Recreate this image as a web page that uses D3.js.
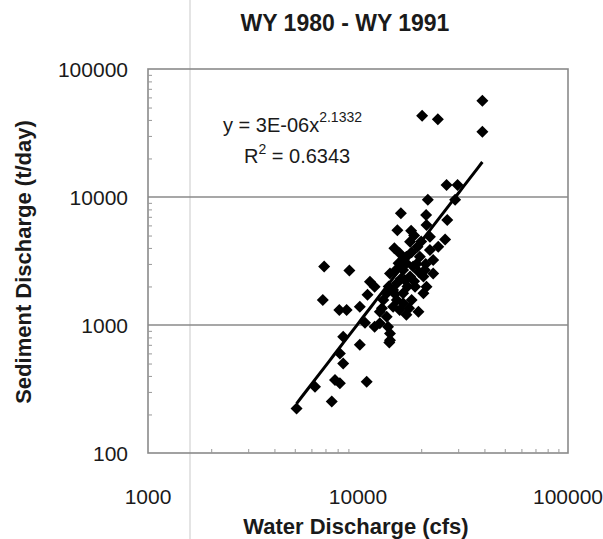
<!DOCTYPE html>
<html>
<head>
<meta charset="utf-8">
<script src="https://cdn.jsdelivr.net/npm/d3@7"></script>
<style>
  html, body { margin: 0; padding: 0; background: #fff; }
  svg { display: block; font-family: "Liberation Sans", Arial, sans-serif; }
</style>
</head>
<body>
<svg id="chart" width="603" height="539"></svg>
<script>
// ---- data ----
const chartTitle = "WY 1980 - WY 1991";
const xTitle = "Water Discharge (cfs)";
const yTitle = "Sediment Discharge (t/day)";
const xTickValues = [1000, 10000, 100000];
const yTickValues = [100, 1000, 10000, 100000];
const gridValues = [1000, 10000];

// water discharge (cfs)
const waterQ = [
  39100, 20200, 24000, 39100, 26400, 29800, 29000, 21500, 16000, 21100,
  26600, 15400, 17900, 21200, 26000, 14900, 17700, 19200, 22000, 22800,
  19700, 17000, 18300, 20800, 14200, 15300, 16400, 17700, 12000, 11400,
  11100, 13200, 15300, 12700, 13700, 15800, 17000, 19400, 21200, 20500,
  14700, 16400, 13900, 14200, 14200, 12000, 6900, 9100, 6800, 8150,
  8830, 10200, 8500, 10200, 14100, 8200, 8500, 8200, 7770, 11000,
  7500, 5100, 6240, 15600, 17000, 16700, 18700, 18000, 13700, 14700,
  16400, 12700, 20500, 22800, 24100, 22000, 15800, 10800,
  15200, 16000, 17200, 18500, 19500, 16500, 18000, 19000, 14000, 15000,
  17500, 13000, 21000, 18500, 20000
];
// sediment discharge (t/day)
const sedQ = [
  56600, 43200, 40500, 32400, 12400, 12400, 9500, 9500, 7450, 7250,
  6600, 5500, 5450, 6050, 4650, 3970, 4480, 4090, 3850, 3220,
  3420, 3420, 2860, 2690, 2530, 2120, 2690, 2390, 1990, 2180,
  1720, 1570, 1570, 1270, 1160, 1310, 1200, 1270, 1990, 1770,
  1880, 1770, 970, 860, 760, 970, 2860, 2660, 1570, 1310,
  1310, 1390, 810, 700, 730, 600, 500, 350, 372, 360,
  252, 223, 330, 3030, 3030, 2250, 1990, 1570, 1770, 1390,
  1480, 1030, 2390, 2530, 4090, 4900, 3630, 1040,
  2700, 2300, 2000, 2200, 2600, 3300, 3700, 3000, 2000, 1750,
  1350, 1350, 3000, 5000, 4500
];

// power trendline y = a * x^b
const trendCoef = 3e-6;
const trendExp = 2.1332;
const trendXRange = [5100, 39100];
const eqText = "y = 3E-06x";
const eqSup = "2.1332";
const r2Value = "0.6343";

// ---- drawing ----
const svg = d3.select("#chart");
const W = 603, H = 539;
const plot = { left: 148, right: 568, top: 69, bottom: 453 };

svg.append("rect").attr("width", W).attr("height", H).attr("fill", "#fff");

// faint scan line seen in the reference
svg.append("line")
  .attr("x1", 190).attr("x2", 190).attr("y1", 0).attr("y2", H)
  .attr("stroke", "#e4e4e4").attr("stroke-width", 2);

const x = d3.scaleLog().domain([1000, 100000]).range([plot.left, plot.right]);
const y = d3.scaleLog().domain([100, 100000]).range([plot.bottom, plot.top]);

// gridlines
svg.append("g").selectAll("line").data(gridValues).join("line")
  .attr("x1", plot.left).attr("x2", plot.right)
  .attr("y1", d => y(d)).attr("y2", d => y(d))
  .attr("stroke", "#8a8a8a").attr("stroke-width", 1.6);

// plot frame
svg.append("rect")
  .attr("x", plot.left).attr("y", plot.top)
  .attr("width", plot.right - plot.left).attr("height", plot.bottom - plot.top)
  .attr("fill", "none").attr("stroke", "#8a8a8a").attr("stroke-width", 1.6);

// minor ticks (inside)
const xMinor = x.ticks().filter(v => xTickValues.indexOf(v) < 0);
const yMinor = y.ticks().filter(v => yTickValues.indexOf(v) < 0);

const xAxis = d3.axisBottom(x).tickValues(xMinor).tickSize(-4).tickFormat("");
const gx = svg.append("g").attr("transform", `translate(0,${plot.bottom})`).call(xAxis);
gx.select(".domain").remove();
gx.selectAll(".tick line").attr("stroke", "#999").attr("stroke-width", 1);

const yAxis = d3.axisLeft(y).tickValues(yMinor).tickSize(-4).tickFormat("");
const gy = svg.append("g").attr("transform", `translate(${plot.left},0)`).call(yAxis);
gy.select(".domain").remove();
gy.selectAll(".tick line").attr("stroke", "#999").attr("stroke-width", 1);

// tick labels
svg.append("g").selectAll("text").data(xTickValues).join("text")
  .attr("x", d => x(d)).attr("y", 504)
  .attr("text-anchor", "middle")
  .attr("font-size", 21).attr("fill", "#1a1a1a")
  .text(d => d);

svg.append("g").selectAll("text").data(yTickValues).join("text")
  .attr("x", 128).attr("y", d => y(d)).attr("dy", "0.36em")
  .attr("text-anchor", "end")
  .attr("font-size", 21).attr("fill", "#1a1a1a")
  .text(d => d);

// titles
svg.append("text").attr("x", 345).attr("y", 31)
  .attr("text-anchor", "middle").attr("font-size", 23).attr("font-weight", "bold")
  .attr("fill", "#1a1a1a").text(chartTitle);

svg.append("text").attr("x", 356).attr("y", 534)
  .attr("text-anchor", "middle").attr("font-size", 22).attr("font-weight", "bold")
  .attr("fill", "#1a1a1a").text(xTitle);

svg.append("text").attr("transform", "translate(31,262) rotate(-90)")
  .attr("text-anchor", "middle").attr("font-size", 22).attr("font-weight", "bold")
  .attr("fill", "#1a1a1a").text(yTitle);

// trendline
const trendPts = d3.range(0, 41).map(i => {
  const lx = Math.log10(trendXRange[0]) + i / 40 * (Math.log10(trendXRange[1]) - Math.log10(trendXRange[0]));
  const xv = Math.pow(10, lx);
  return [xv, trendCoef * Math.pow(xv, trendExp)];
});
svg.append("path").datum(trendPts)
  .attr("d", d3.line().x(d => x(d[0])).y(d => y(d[1])))
  .attr("fill", "none").attr("stroke", "#000").attr("stroke-width", 3);

// points (diamonds)
const pts = waterQ.map((q, i) => ({ q, s: sedQ[i] }));
const sym = d3.symbol().type(d3.symbolSquare).size(72);
svg.append("g").selectAll("path").data(pts).join("path")
  .attr("d", sym)
  .attr("transform", d => `translate(${x(d.q)},${y(d.s)}) rotate(45)`)
  .attr("fill", "#000");

// equation
const eq = svg.append("text").attr("x", 223).attr("y", 132)
  .attr("font-size", 20).attr("fill", "#1a1a1a");
eq.append("tspan").text(eqText);
eq.append("tspan").attr("dy", -10).attr("font-size", 14).text(eqSup);

const r2 = svg.append("text").attr("x", 244).attr("y", 163)
  .attr("font-size", 20).attr("fill", "#1a1a1a");
r2.append("tspan").text("R");
r2.append("tspan").attr("dy", -9).attr("font-size", 14).text("2");
r2.append("tspan").attr("dy", 9).text(" = " + r2Value);
</script>
</body>
</html>
